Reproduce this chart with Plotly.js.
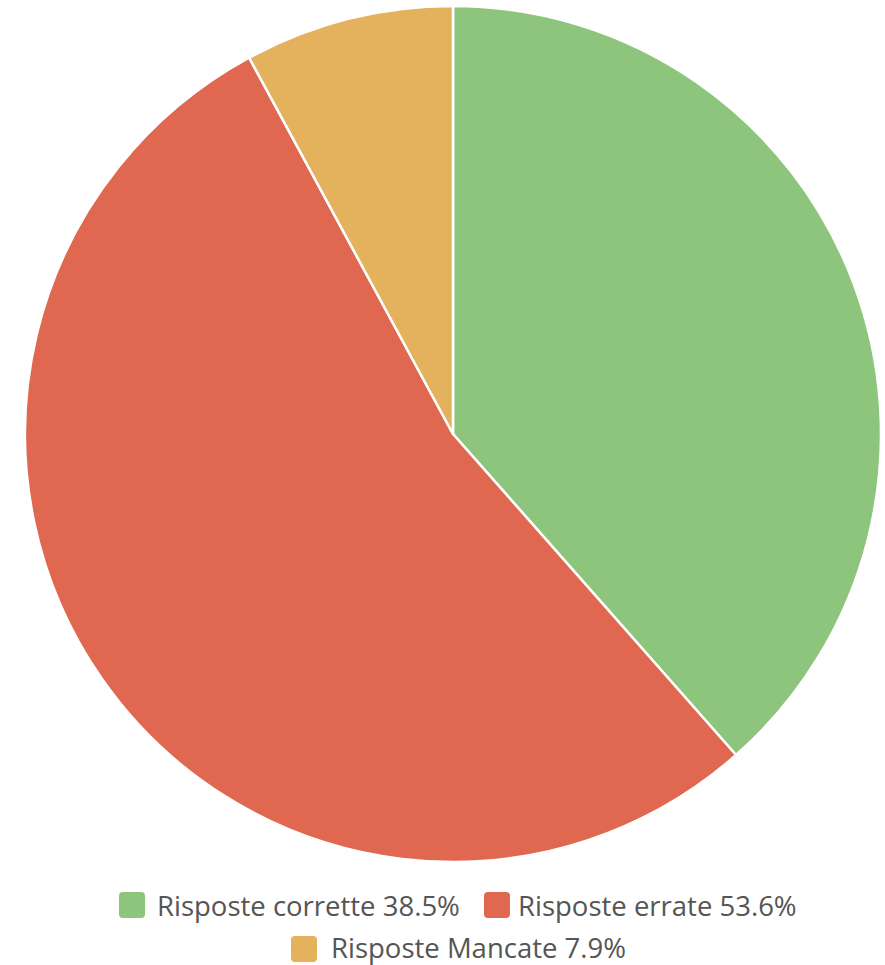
<!DOCTYPE html>
<html>
<head>
<meta charset="utf-8">
<script src="https://cdn.plot.ly/plotly-3.0.1.min.js"></script>
<style>html,body{margin:0;padding:0;background:#fff;}#chart{width:885px;height:965px;}</style>
</head>
<body>
<div id="chart"></div>
<script>
const labels = ["Risposte corrette", "Risposte errate", "Risposte Mancate"];
const values = [38.5, 53.6, 7.9];
const colors = ["#8EC57D", "#E06750", "#E4B25D"];

const W = 885, H = 965;
// legend layout (pixels): swatch top-left and text left
const legendPos = [
  {sx: 119, sy: 892, tx: 156},
  {sx: 484, sy: 892, tx: 517},
  {sx: 291, sy: 936, tx: 330}
];
const sw = 26, rr = 4;

function px(x){ return x / W; }
function py(y){ return 1 - y / H; }
function roundRect(x, y, w, h, r){
  const X = v => px(v), Y = v => py(v);
  return `M${X(x+r)},${Y(y)} L${X(x+w-r)},${Y(y)} Q${X(x+w)},${Y(y)} ${X(x+w)},${Y(y+r)} ` +
         `L${X(x+w)},${Y(y+h-r)} Q${X(x+w)},${Y(y+h)} ${X(x+w-r)},${Y(y+h)} ` +
         `L${X(x+r)},${Y(y+h)} Q${X(x)},${Y(y+h)} ${X(x)},${Y(y+h-r)} ` +
         `L${X(x)},${Y(y+r)} Q${X(x)},${Y(y)} ${X(x+r)},${Y(y)} Z`;
}

const shapes = labels.map((l, i) => ({
  type: 'path', xref: 'paper', yref: 'paper',
  path: roundRect(legendPos[i].sx, legendPos[i].sy, sw, sw, rr),
  fillcolor: colors[i], line: {width: 0}
}));
const annotations = labels.map((l, i) => ({
  xref: 'paper', yref: 'paper',
  x: px(legendPos[i].tx), y: py(legendPos[i].sy + sw/2 - (i === 2 ? 2 : 0)),
  xanchor: 'left', yanchor: 'middle', showarrow: false, borderpad: 0,
  text: l + ' ' + values[i].toFixed(1) + '%',
  font: {family: 'Open Sans, sans-serif', size: 27.5, color: '#555555'}
}));

const trace = {
  type: 'pie',
  labels: labels,
  values: values,
  sort: false,
  direction: 'clockwise',
  rotation: 0,
  textinfo: 'none',
  hoverinfo: 'label+percent',
  marker: {colors: colors, line: {color: '#ffffff', width: 2.5}},
  domain: {x: [px(24), px(882)], y: [py(862), py(6)]},
  showlegend: false
};

Plotly.newPlot('chart', [trace], {
  width: W, height: H,
  margin: {l: 0, r: 0, t: 0, b: 0},
  paper_bgcolor: '#ffffff',
  showlegend: false,
  shapes: shapes,
  annotations: annotations
}, {displayModeBar: false, staticPlot: true});
</script>
</body>
</html>
